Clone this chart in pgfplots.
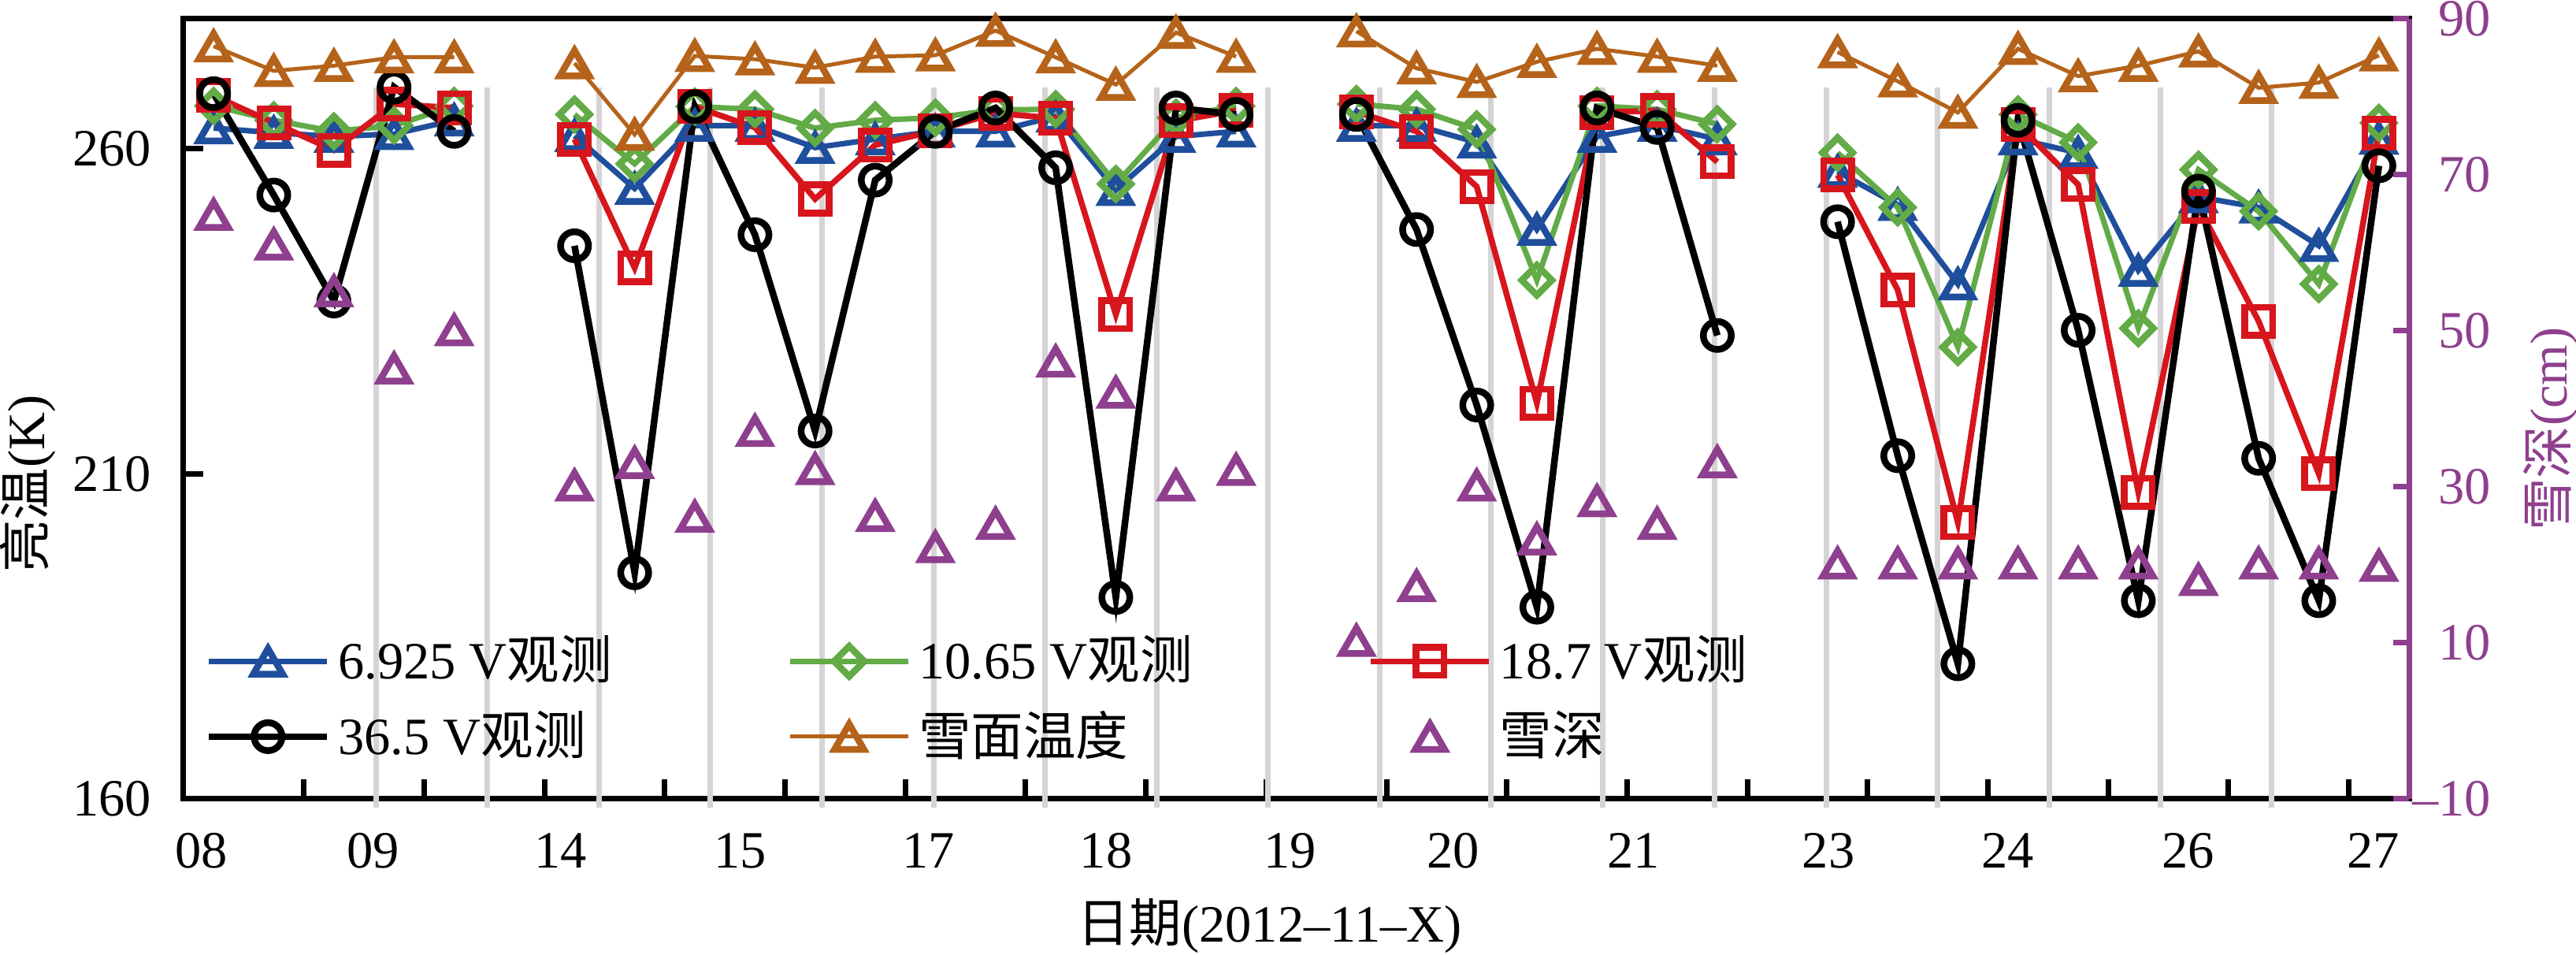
\documentclass[border=0pt]{standalone}
\usepackage{fontspec}
\setmainfont{Liberation Serif}
\newfontfamily\cjk{Noto Sans CJK SC}
\usepackage{pgfplots}
\usepackage{pgfplotstable}
\pgfplotsset{compat=1.18}
\definecolor{cblue}{HTML}{1F4E9C}
\definecolor{cgreen}{HTML}{62AB47}
\definecolor{cred}{HTML}{D7151C}
\definecolor{corange}{HTML}{B5631A}
\definecolor{cpurple}{HTML}{8E3F8D}
\definecolor{cgray}{HTML}{D5D3D5}

\pgfplotstableread{
s blue green red black orange
0 263.2 266.6 268.2 268.5 275.8
1 262.5 264.4 264.0 252.9 272.0
2 261.9 262.7 259.8 236.6 272.8
3 262.3 263.6 266.9 269.5 274.1
4 264.4 266.6 266.3 262.7 274.1
5 nan nan nan nan nan
6 262.0 265.3 261.5 245.1 273.2
7 253.9 257.7 241.7 194.8 262.2
8 263.6 266.5 266.5 266.5 274.3
9 263.6 266.1 263.3 246.8 273.8
10 260.2 263.2 252.3 216.6 272.5
11 261.5 264.4 260.6 255.2 274.2
12 262.7 264.8 262.8 262.7 274.4
13 262.7 266.0 265.5 266.3 278.2
14 265.0 266.1 264.7 257.1 274.1
15 253.7 254.6 234.5 191.0 269.9
16 261.9 264.8 264.3 266.3 277.9
17 262.7 266.6 265.9 265.3 274.2
18 nan nan nan nan nan
19 263.6 266.9 265.7 265.3 278.1
20 263.6 266.1 262.7 247.6 272.4
21 261.0 263.0 254.2 220.6 270.3
22 247.6 239.8 220.9 189.5 273.4
23 261.9 266.6 265.6 266.3 275.4
24 263.6 266.1 265.9 263.3 274.2
25 261.5 263.8 258.0 231.3 272.8
26 nan nan nan nan nan
27 256.5 259.4 256.0 248.8 274.9
28 251.4 251.0 238.3 212.8 270.4
29 239.2 229.5 202.5 180.8 265.6
30 261.5 265.3 263.7 264.4 275.4
31 259.4 261.0 254.5 232.1 271.2
32 241.3 232.4 207.2 190.5 272.8
33 252.6 256.8 251.1 253.5 275.0
34 251.0 250.4 233.5 212.4 269.4
35 245.1 239.2 210.0 190.5 270.2
36 261.6 264.0 262.4 257.4 274.4
}\tbA

\pgfplotstableread{
s d
0 64.9
1 61.1
2 55.1
3 45.2
4 50.1
6 30.2
7 33.1
8 26.2
9 37.2
10 32.3
11 26.3
12 22.3
13 25.3
14 46.1
15 42.1
16 30.2
17 32.2
19 10.3
20 17.3
21 30.2
22 23.3
23 28.2
24 25.3
25 33.2
27 20.2
28 20.2
29 20.2
30 20.2
31 20.2
32 20.2
33 18.1
34 20.2
35 20.2
36 19.9
}\tbB

\begin{document}
\fontsize{13.3}{16}\selectfont
\begin{tikzpicture}
\begin{axis}[
  scale only axis, width=565pt, height=198pt,
  xmin=-0.5, xmax=36.5, ymin=160, ymax=280,
  clip=false,
  axis line style={line width=1.4pt},
  tick align=inside, tick pos=left,
  major tick length=5pt,
  tick style={black, line width=1.4pt},
  xtick={1.5,3.5,...,35.5}, xticklabels={},
  extra x ticks={-0.20,2.65,5.77,8.75,11.89,14.84,17.90,20.61,23.61,26.85,29.83,32.83,35.91},
  extra x tick labels={08,09,14,15,17,18,19,20,21,23,24,26,27},
  extra x tick style={major tick length=0pt, xticklabel style={yshift=-4pt}},
  ytick={160,210,260}, yticklabels={160,210,260},
  yticklabel style={xshift=-3.6pt},
  xlabel={{\cjk 日期}(2012\textendash 11\textendash X)},
  xlabel style={at={(axis description cs:0.488,0)}, anchor=center, yshift=-32.2pt},
  ylabel={{\cjk 亮温}(K)},
  ylabel style={at={(axis description cs:-0.0701,0.404)}, anchor=center},
  legend columns=3,
  legend style={draw=none, fill=none, at={(rel axis cs:0,0)}, anchor=south west,
    xshift=5.4pt, yshift=7pt, inner sep=0pt, row sep=2pt, cells={anchor=west}},
  legend image code/.code={\draw[mark repeat=2,mark phase=2] plot coordinates {(0pt,0pt) (15pt,0pt) (30pt,0pt)};},
]
\coordinate (bl) at (rel axis cs:0,0);
\coordinate (tr) at (rel axis cs:1,1);
\addplot[cgray, line width=1.4pt, no markers, unbounded coords=jump, forget plot] coordinates {
(2.70,158.7) (2.70,269.4) (2.70,nan)
(4.55,158.7) (4.55,269.4) (4.55,nan)
(6.41,158.7) (6.41,269.4) (6.41,nan)
(8.26,158.7) (8.26,269.4) (8.26,nan)
(10.11,158.7) (10.11,269.4) (10.11,nan)
(11.97,158.7) (11.97,269.4) (11.97,nan)
(13.82,158.7) (13.82,269.4) (13.82,nan)
(15.68,158.7) (15.68,269.4) (15.68,nan)
(17.53,158.7) (17.53,269.4) (17.53,nan)
(19.39,158.7) (19.39,269.4) (19.39,nan)
(21.24,158.7) (21.24,269.4) (21.24,nan)
(23.10,158.7) (23.10,269.4) (23.10,nan)
(24.95,158.7) (24.95,269.4) (24.95,nan)
(26.81,158.7) (26.81,269.4) (26.81,nan)
(28.66,158.7) (28.66,269.4) (28.66,nan)
(30.52,158.7) (30.52,269.4) (30.52,nan)
(32.37,158.7) (32.37,269.4) (32.37,nan)
(34.22,158.7) (34.22,269.4)
};
\addplot[cblue, line width=1.4pt, mark=triangle, mark size=4.3pt, unbounded coords=jump,
  mark options={solid, line width=1.7pt, yshift=-1.1pt}] table[x=s, y=blue] {\tbA};
\addlegendentry{\makebox[112pt][l]{6.925 V{\cjk 观测}}}
\addplot[cgreen, line width=1.4pt, mark=square, mark size=2.7pt, unbounded coords=jump,
  mark options={solid, line width=1.7pt, rotate=45}] table[x=s, y=green] {\tbA};
\addlegendentry{\makebox[112pt][l]{10.65 V{\cjk 观测}}}
\addplot[cred, line width=1.5pt, mark=square, mark size=3.55pt, unbounded coords=jump,
  mark options={solid, line width=1.7pt}] table[x=s, y=red] {\tbA};
\addlegendentry{\makebox[112pt][l]{18.7 V{\cjk 观测}}}
\addplot[black, line width=1.7pt, mark=o, mark size=3.55pt, unbounded coords=jump,
  mark options={solid, line width=1.7pt}] table[x=s, y=black] {\tbA};
\addlegendentry{\makebox[112pt][l]{36.5 V{\cjk 观测}}}
\addplot[corange, line width=1.0pt, mark=triangle, mark size=4.3pt, unbounded coords=jump,
  mark options={solid, line width=1.7pt, yshift=-1.1pt}] table[x=s, y=orange] {\tbA};
\addlegendentry{\makebox[112pt][l]{\cjk 雪面温度}}
\addlegendimage{only marks, cpurple, mark=triangle, mark size=4.3pt, mark options={line width=1.7pt, yshift=-1.1pt}}
\addlegendentry{\makebox[112pt][l]{\cjk 雪深}}
\end{axis}
\begin{axis}[
  scale only axis, width=565pt, height=198pt,
  xmin=-0.5, xmax=36.5, ymin=-10, ymax=90,
  clip=false,
  axis x line=none, axis y line*=right,
  axis line style={cpurple, line width=1.4pt, -},
  tick align=inside, major tick length=4pt,
  tick style={cpurple, line width=1.4pt},
  ytick={-10,10,30,50,70,90},
  yticklabels={\textendash 10,10,30,50,70,90},
  yticklabel style={text=cpurple, anchor=east, xshift=25.4pt},
  ylabel={{\cjk 雪深}(cm)},
  ylabel style={text=cpurple, at={(axis description cs:1.0636,0.474)}, anchor=center},
]
\addplot[only marks, cpurple, mark=triangle, mark size=4.3pt,
  mark options={line width=1.7pt, yshift=-1.1pt}] table[x=s, y=d] {\tbB};
\end{axis}
\pgfresetboundingbox
\path[use as bounding box] ([shift={(-46.6pt,-39.6pt)}]bl) rectangle ([shift={(42.4pt,4.8pt)}]tr);
\end{tikzpicture}
\end{document}
